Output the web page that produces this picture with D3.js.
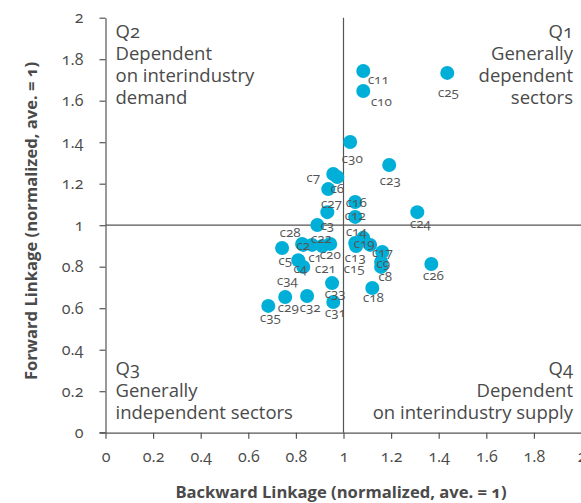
<!DOCTYPE html>
<html>
<head>
<meta charset="utf-8">
<script src="https://cdn.jsdelivr.net/npm/d3@7"></script>
<style>
  html, body { margin: 0; padding: 0; background: #fff; }
  svg { display: block; font-family: "Open Sans", "Lato", sans-serif; font-variant-numeric: oldstyle-nums; font-feature-settings: "onum" 1; }
</style>
</head>
<body>
<svg id="chart" width="581" height="503"></svg>
<script>
// ---- data ----
const sectors = ["c1","c2","c3","c4","c5","c6","c7","c8","c9","c10","c11","c12","c13","c14","c15","c16","c17","c18","c19","c20","c21","c22","c23","c24","c25","c26","c27","c28","c29","c30","c31","c32","c33","c34","c35"];
const backward = [0.868,0.831,0.932,0.810,0.742,0.974,0.957,1.158,1.158,1.083,1.083,1.049,1.049,1.083,1.053,1.049,1.163,1.121,1.112,0.944,0.911,0.890,1.192,1.310,1.436,1.369,0.936,0.826,0.755,1.028,0.957,0.847,0.952,0.831,0.684];
const forward  = [0.905,0.905,1.063,0.831,0.890,1.232,1.247,0.799,0.823,1.647,1.743,1.040,0.914,0.939,0.900,1.112,0.871,0.697,0.905,0.910,0.900,1.001,1.290,1.063,1.734,0.813,1.174,0.910,0.654,1.401,0.630,0.659,0.721,0.799,0.611];
const xTicks = [0,0.2,0.4,0.6,0.8,1,1.2,1.4,1.6,1.8,2];
const yTicks = [0,0.2,0.4,0.6,0.8,1,1.2,1.4,1.6,1.8,2];
const xTitle = "Backward Linkage (normalized, ave. = 1)";
const yTitle = "Forward Linkage (normalized, ave. = 1)";
const quadrants = [
  {lines:["Q2","Dependent","on interindustry","demand"], side:"left", row:"top"},
  {lines:["Q1","Generally","dependent","sectors"], side:"right", row:"top"},
  {lines:["Q3","Generally","independent sectors"], side:"left", row:"bottom"},
  {lines:["Q4","Dependent","on interindustry supply"], side:"right", row:"bottom"}
];

// ---- drawing ----
const svg = d3.select("#chart");
const x = d3.scaleLinear().domain([0,2]).range([105.5, 581.5]);
const y = d3.scaleLinear().domain([0,2]).range([432.7, 17.7]);
const fmt = d => d === 0 ? "0" : (d % 1 === 0 ? String(d) : d3.format(".1f")(d));
const lineColor = "#555";
const textColor = "#4a4a4a";

// y axis
const gy = svg.append("g").attr("transform", `translate(${x(0)},0)`)
  .call(d3.axisLeft(y).tickValues(yTicks).tickSize(6).tickSizeOuter(0).tickPadding(16).tickFormat(fmt));
// x axis
const gx = svg.append("g").attr("transform", `translate(0,${y(0)})`)
  .call(d3.axisBottom(x).tickValues(xTicks).tickSize(6).tickSizeOuter(0).tickPadding(12).tickFormat(fmt));
[gx, gy].forEach(g => {
  g.select(".domain").attr("stroke", lineColor).attr("stroke-width", 1.2);
  g.selectAll(".tick line").attr("stroke", lineColor).attr("stroke-width", 1.2);
  g.selectAll(".tick text").attr("fill", textColor).style("font-size", "16px")
    .style("font-family", "'Open Sans', sans-serif");
});
// extend axis line past origin
svg.append("line").attr("x1", x(0) - 6).attr("x2", x(0)).attr("y1", y(0)).attr("y2", y(0)).attr("stroke", lineColor).attr("stroke-width", 1.2);

// quadrant dividers
svg.append("line").attr("x1", x(1)).attr("x2", x(1)).attr("y1", y(2)).attr("y2", y(0)).attr("stroke", lineColor).attr("stroke-width", 1.2);
svg.append("line").attr("x1", x(0)).attr("x2", x(2)).attr("y1", y(1)).attr("y2", y(1)).attr("stroke", lineColor).attr("stroke-width", 1.2);

// quadrant labels
quadrants.forEach(q => {
  const tx = q.side === "left" ? x(0) + 10 : 573;
  const y0 = q.row === "top" ? 38 : 375;
  const t = svg.append("text").attr("fill", textColor).style("font-size", "18.5px")
    .attr("text-anchor", q.side === "left" ? "start" : "end");
  q.lines.forEach((l, i) => t.append("tspan").attr("x", tx).attr("y", y0 + i * 22).text(l));
});

// points
const pts = sectors.map((s, i) => ({name: s, bx: backward[i], fy: forward[i]}));
// label nudges (pixels) relative to point
const nudge = {
  c1:[3,12], c2:[0,0], c3:[0,13], c4:[2,8], c5:[3,12], c6:[0,11], c7:[-20,3], c8:[4,9], c9:[2,1],
  c10:[18,10], c11:[15,8], c12:[0,-2], c13:[0,14], c14:[-7,-7], c15:[-2,22], c16:[1,0], c17:[0,0],
  c18:[1,9], c19:[-6,-2], c20:[0,10], c21:[3,22], c22:[4,13], c23:[1,15], c24:[3,11], c25:[1,19],
  c26:[2,11], c27:[3,14], c28:[-12,-12], c29:[3,10], c30:[2,16], c31:[2,10], c32:[3,11], c33:[3,10],
  c34:[-16,13], c35:[2,11]
};
svg.append("g").selectAll("circle").data(pts).join("circle")
  .attr("cx", d => x(d.bx)).attr("cy", d => y(d.fy)).attr("r", 7)
  .attr("fill", "#00afd8");
svg.append("g").selectAll("text").data(pts).join("text")
  .attr("x", d => x(d.bx) + nudge[d.name][0])
  .attr("y", d => y(d.fy) + nudge[d.name][1])
  .attr("text-anchor", "middle").attr("dy", "0.35em")
  .attr("fill", "#555").style("font-size", "13.5px")
  .text(d => d.name);

// axis titles
svg.append("text").attr("x", 341).attr("y", 498).attr("text-anchor", "middle")
  .attr("fill", textColor).style("font-size", "16.6px").style("font-weight", "bold").text(xTitle);
svg.append("text").attr("transform", "translate(37,221) rotate(-90)").attr("text-anchor", "middle")
  .attr("fill", textColor).style("font-size", "16.6px").style("font-weight", "bold").text(yTitle);
</script>
</body>
</html>
